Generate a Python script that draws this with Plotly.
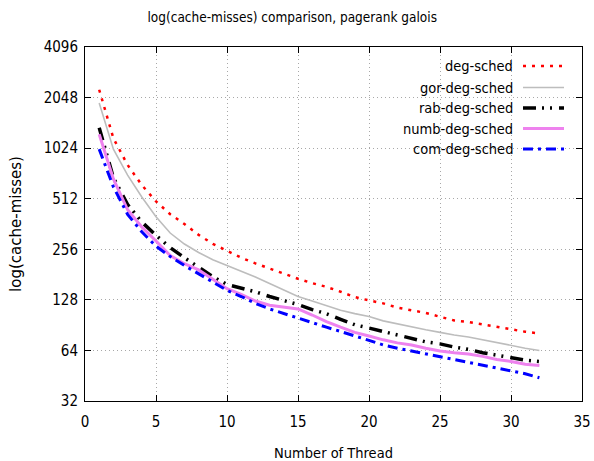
import plotly.graph_objects as go

threads = list(range(1, 33))

deg_sched = [2280, 1172, 813, 617, 494, 414, 362, 312, 276, 252, 228, 211, 197, 182, 171, 161,
             153, 143, 133, 127, 122, 115, 111, 107, 101.5, 96.5, 94.5, 91.4, 88.5, 85.4, 82.7, 80.8]
gor_deg_sched = [1900, 1010, 707, 524, 400, 320, 275, 245, 222, 205, 190, 175, 160, 146, 134, 126,
                 118, 111, 106, 102, 96, 92, 89, 85, 82, 79, 77, 74, 71, 68, 66, 64]
rab_deg_sched = [1356, 682, 473, 372, 310, 262, 228, 200, 176, 158, 150, 143, 134, 127, 120, 112,
                 106, 98, 91, 87, 83, 79, 75, 72, 70, 67, 65, 62, 60, 58, 56, 55]
numb_deg_sched = [1238, 672, 440, 348, 287, 235, 210, 193, 170, 149, 138, 126, 119, 116, 113, 104,
                  95, 88, 82, 78, 74, 71, 69, 66, 63.5, 62, 61, 59, 56.5, 55, 53, 52]
com_deg_sched = [1010, 602, 413, 325, 267, 232, 205, 183, 163, 146, 134, 122, 113, 106, 100, 94,
                 88, 83, 78, 73, 69, 66, 63.5, 61, 58.5, 56.5, 54.5, 52.5, 50.5, 48.7, 46.5, 44]

y_ticks = [32, 64, 128, 256, 512, 1024, 2048, 4096]
x_ticks = [0, 5, 10, 15, 20, 25, 30, 35]

series = [
    ("deg-sched", deg_sched, dict(color="#ff0000", width=2.5, dash="3px,6px")),
    ("gor-deg-sched", gor_deg_sched, dict(color="#bdbdbd", width=1.6)),
    ("rab-deg-sched", rab_deg_sched, dict(color="#000000", width=3.5, dash="13px,6px,2px,6px,2px,7px")),
    ("numb-deg-sched", numb_deg_sched, dict(color="#ee82ee", width=3)),
    ("com-deg-sched", com_deg_sched, dict(color="#0000ff", width=3, dash="10px,5px,3px,5px")),
]

FONT = "DejaVu Sans Condensed, Liberation Sans Narrow, DejaVu Sans, sans-serif"

fig = go.Figure()
for name, vals, line in series:
    fig.add_trace(go.Scatter(x=threads, y=vals, mode="lines", name=name, line=line,
                             showlegend=False))

# gnuplot-style key: text right-aligned, sample line to the right
L, R, T, B = 85, 12, 47, 60
W, H = 594, 461
pw, ph = W - L - R, H - T - B
row_y = [66, 87.5, 108, 128.5, 149]
for (name, vals, line), ry in zip(series, row_y):
    yp = 1 - (ry - T) / ph
    fig.add_annotation(xref="paper", yref="paper", x=(515 - L) / pw, y=yp, text=name,
                       showarrow=False, xanchor="right", yanchor="middle",
                       font=dict(family=FONT, size=14.5, color="#000000"))
    fig.add_shape(type="line", xref="paper", yref="paper",
                  x0=(523 - L) / pw, x1=(564 - L) / pw, y0=yp, y1=yp, line=line)

axis_common = dict(showline=True, linecolor="#000000", linewidth=1, mirror="ticks",
                   ticks="inside", ticklen=6, tickcolor="#000000", automargin=False,
                   showgrid=True, gridcolor="#a8a8a8", griddash="1px,3px", gridwidth=1,
                   zeroline=False, tickfont=dict(family=FONT, size=15, color="#000000"))

fig.update_layout(
    width=W, height=H,
    margin=dict(l=L, r=R, t=T, b=B, autoexpand=False),
    paper_bgcolor="#ffffff", plot_bgcolor="#ffffff",
    title=dict(text="log(cache-misses) comparison, pagerank galois", x=0.492, xanchor="center",
               y=1 - 17 / H, yanchor="middle",
               font=dict(family=FONT, size=13.5, color="#000000")),
    xaxis=dict(range=[0, 35], tickvals=x_ticks, ticktext=[str(v) for v in x_ticks],
               ticklabelstandoff=7,
               title=dict(text="Number of Thread", standoff=20,
                          font=dict(family=FONT, size=14.5, color="#000000")),
               **axis_common),
    yaxis=dict(type="log", range=[1.50515, 3.61236], tickvals=y_ticks,
               ticktext=[str(v) for v in y_ticks],
               ticklabelstandoff=3,
               title=dict(text="log(cache-misses)", standoff=18,
                          font=dict(family="DejaVu Sans, sans-serif", size=15, color="#000000")),
               **axis_common),
)

fig.write_html("out.html", config={"displayModeBar": False},
               post_script="document.body.style.margin='0px';")
